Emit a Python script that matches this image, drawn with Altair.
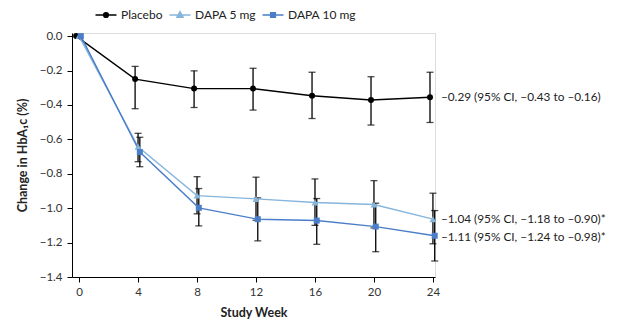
import altair as alt
import pandas as pd

weeks = [0, 4, 8, 12, 16, 20, 24]
series_names = ["Placebo", "DAPA 5 mg", "DAPA 10 mg"]
x_offsets = [-0.2, 0.0, 0.12]

placebo = [0.0, -0.25, -0.305, -0.305, -0.347, -0.371, -0.355]
placebo_hi = [0.0, -0.176, -0.202, -0.187, -0.21, -0.236, -0.21]
placebo_lo = [0.0, -0.422, -0.415, -0.43, -0.479, -0.517, -0.502]

dapa5 = [0.0, -0.643, -0.927, -0.946, -0.967, -0.979, -1.064]
dapa5_hi = [0.0, -0.565, -0.817, -0.82, -0.83, -0.84, -0.913]
dapa5_lo = [0.0, -0.73, -1.033, -1.07, -1.10, -1.115, -1.207]

dapa10 = [0.0, -0.674, -0.998, -1.064, -1.072, -1.107, -1.16]
dapa10_hi = [0.0, -0.588, -0.886, -0.94, -0.944, -0.971, -1.014]
dapa10_lo = [0.0, -0.759, -1.103, -1.19, -1.21, -1.253, -1.307]

end_labels = [
    "\u20130.29 (95% CI, \u20130.43 to \u20130.16)",
    "\u20131.04 (95% CI, \u20131.18 to \u20130.90)*",
    "\u20131.11 (95% CI, \u20131.24 to \u20130.98)*",
]
end_label_y = [-0.355, -1.064, -1.17]

y_ticks = [0, -0.2, -0.4, -0.6, -0.8, -1.0, -1.2, -1.4]
colors = ["#000000", "#86b5dc", "#4a7ec8"]
shapes = ["circle", "triangle-up", "square"]
point_sizes = [36, 48, 36]
legend_shapes = [
    "M-3.5,0H3.5M0.8,0A0.8,0.8 0 1,1 -0.8,0A0.8,0.8 0 1,1 0.8,0Z",
    "M-3.5,0H3.5M0,-1.1L1.05,0.75L-1.05,0.75Z",
    "M-3.5,0H3.5M-0.8,-0.8H0.8V0.8H-0.8Z",
]

rows = []
for name, off, vals, his, los in zip(
    series_names, x_offsets,
    [placebo, dapa5, dapa10], [placebo_hi, dapa5_hi, dapa10_hi], [placebo_lo, dapa5_lo, dapa10_lo],
):
    for w, v, h, l in zip(weeks, vals, his, los):
        rows.append({"series": name, "week": w, "xw": w + off, "value": v, "hi": h, "lo": l})
df = pd.DataFrame(rows)

lab_df = pd.DataFrame({"series": series_names, "week": [24, 24, 24], "y": end_label_y, "label": end_labels})

FONT = "Lato"
xscale = alt.Scale(domain=[-0.48, 24.14], nice=False, zero=False)
yscale = alt.Scale(domain=[-1.4, 0.018], nice=False, zero=False)

xaxis = alt.Axis(values=weeks, title="Study Week", format="d", grid=False,
                 domainColor="black", tickColor="black", tickSize=5,
                 labelFontSize=11.5, labelColor="#333", titleFontSize=12.5,
                 titleColor="#222", labelOverlap=False,
                 titleFontWeight="bold", titlePadding=9, labelPadding=4)
yaxis = alt.Axis(values=y_ticks, format=".1f",
                 title="Change in HbA\u2081c (%)", grid=False,
                 domainColor="black", tickColor="black", tickSize=5,
                 labelFontSize=11.5, labelColor="#333", titleFontSize=12.5,
                 titleColor="#222", labelOverlap=False,
                 titleFontWeight="bold", titlePadding=10, labelPadding=5)

def X(field="xw"):
    return alt.X(f"{field}:Q", scale=xscale, axis=xaxis)

def Y(field="value"):
    return alt.Y(f"{field}:Q", scale=yscale, axis=yaxis)

base = alt.Chart(df)
errbase = alt.Chart(df[df.week > 0])

rules = errbase.mark_rule(color="black", strokeWidth=1.3).encode(x=X(), y=Y("hi"), y2="lo:Q")
cap_hi = errbase.mark_tick(color="black", orient="horizontal", size=7, thickness=1.3).encode(
    x=X(), y=Y("hi"))
cap_lo = errbase.mark_tick(color="black", orient="horizontal", size=7, thickness=1.3).encode(
    x=X(), y=Y("lo"))

series_layers = []
for name, col, shp, sz in zip(series_names, colors, shapes, point_sizes):
    sub = base.transform_filter(alt.datum.series == name)
    series_layers.append(sub.mark_line(strokeWidth=1.4, color=col).encode(x=X(), y=Y()))
for name, col, shp, sz in zip(series_names, colors, shapes, point_sizes):
    sub = base.transform_filter(alt.datum.series == name)
    series_layers.append(
        sub.mark_point(filled=True, opacity=1, size=sz, shape=shp, color=col).encode(x=X(), y=Y()))

legend_def = alt.Legend(title=None, orient="none", direction="horizontal",
                        legendX=28, legendY=-24, padding=0,
                        symbolSize=36, symbolStrokeWidth=1.4, symbolOpacity=1,
                        labelOffset=9, columnPadding=3,
                        labelFontSize=12, labelFont=FONT, labelColor="#222")
leg_scale = dict(domain=series_names)
legend_layer = base.transform_filter(alt.datum.week < 0).mark_point(
    filled=True, size=36, strokeWidth=1.4).encode(
    x=X(), y=Y(),
    fill=alt.Fill("series:N", scale=alt.Scale(range=colors, **leg_scale), legend=legend_def),
    stroke=alt.Stroke("series:N", scale=alt.Scale(range=colors, **leg_scale), legend=legend_def),
    shape=alt.Shape("series:N", scale=alt.Scale(range=legend_shapes, **leg_scale), legend=legend_def),
)

labels = alt.Chart(lab_df).mark_text(align="left", baseline="middle", dx=8, fontSize=11.8,
                                     font=FONT, color="#222").encode(
    x=X("week"), y=Y("y"), text="label:N")

chart = alt.layer(rules, cap_hi, cap_lo, *series_layers, legend_layer, labels).properties(
    width=363, height=244,
    autosize=alt.AutoSizeParams(type="none"),
    padding={"left": 64, "top": 25, "right": 175, "bottom": 44},
).configure_view(stroke=None).configure(font=FONT)

chart.save("out.html", embed_options={"renderer": "svg", "actions": False})
